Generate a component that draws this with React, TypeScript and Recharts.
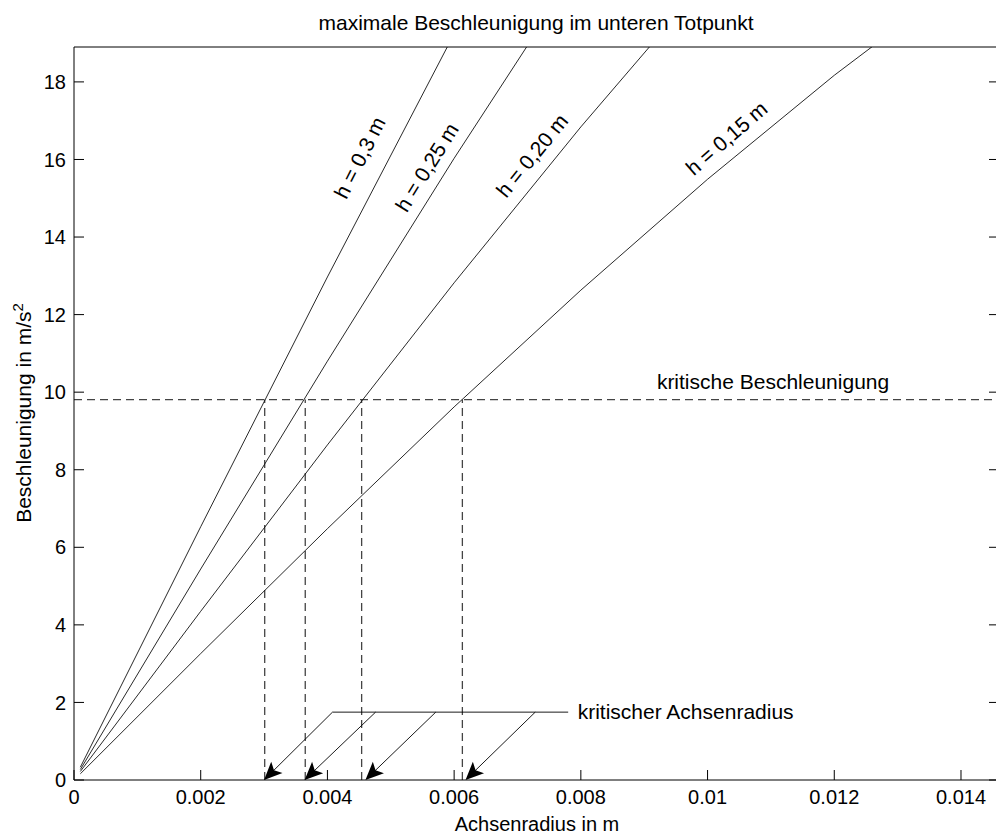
import React from 'react';
import { LineChart, Line, XAxis, YAxis, ReferenceLine, ReferenceDot } from 'recharts';

// axis ticks
const radiusTicks = [0, 0.002, 0.004, 0.006, 0.008, 0.01, 0.012, 0.014];
const accelTicks = [0, 2, 4, 6, 8, 10, 12, 14, 16, 18];

// acceleration over axle radius, one curve per drop height
const curveH30 = [
  { r: 0.0001, a: 0.33 },
  { r: 0.002, a: 6.53 },
  { r: 0.004, a: 12.97 },
  { r: 0.006, a: 19.24 },
];
const curveH25 = [
  { r: 0.0001, a: 0.27 },
  { r: 0.002, a: 5.44 },
  { r: 0.004, a: 10.8 },
  { r: 0.006, a: 16.03 },
  { r: 0.008, a: 21.05 },
];
const curveH20 = [
  { r: 0.0001, a: 0.22 },
  { r: 0.002, a: 4.35 },
  { r: 0.004, a: 8.64 },
  { r: 0.006, a: 12.82 },
  { r: 0.008, a: 16.84 },
  { r: 0.01, a: 20.65 },
];
const curveH15 = [
  { r: 0.0001, a: 0.16 },
  { r: 0.002, a: 3.26 },
  { r: 0.004, a: 6.48 },
  { r: 0.006, a: 9.62 },
  { r: 0.008, a: 12.63 },
  { r: 0.01, a: 15.49 },
  { r: 0.012, a: 18.17 },
  { r: 0.014, a: 20.64 },
];
const curves = [curveH30, curveH25, curveH20, curveH15];
const heightLabels = ['h = 0,3 m', 'h = 0,25 m', 'h = 0,20 m', 'h = 0,15 m'];

// critical acceleration and the radii where each curve crosses it
const critAccel = 9.81;
const critRadius = [0.00301, 0.00365, 0.00454, 0.00613];

// "kritischer Achsenradius" pointer arrows
const arrowLevel = 1.75;
const arrowFrom = [0.00408, 0.00476, 0.00571, 0.00728];
const arrowTo = [0.003, 0.00364, 0.0046, 0.00618];
const arrowLineEnd = 0.0078;

// where the curve labels sit (data coords) and their tilt
const curveLabelPos = [
  { r: 0.00451, a: 16.05, angle: -63 },
  { r: 0.00557, a: 15.8, angle: -58 },
  { r: 0.00723, a: 16.1, angle: -51 },
  { r: 0.0103, a: 16.55, angle: -41 },
];

const FONT = '"Liberation Sans", Arial, Helvetica, sans-serif';
const LABEL_SIZE = 21;
const tickStyle = { fontSize: 20, fill: '#000', fontFamily: FONT };

const fmt = (v: number) => String(v);

const Arrow = (p: any) => {
  const { x1, y1, x2, y2 } = p;
  const dx = x2 - x1;
  const dy = y2 - y1;
  const len = Math.hypot(dx, dy) || 1;
  const ux = dx / len;
  const uy = dy / len;
  const L = 18;
  const W = 8;
  const bx = x2 - ux * L;
  const by = y2 - uy * L;
  const nx = -uy;
  const ny = ux;
  const pts = [
    [x2, y2],
    [bx + nx * W, by + ny * W],
    [x2 - ux * (L - 4), y2 - uy * (L - 4)],
    [bx - nx * W, by - ny * W],
  ]
    .map((q) => q.join(','))
    .join(' ');
  return (
    <g>
      <line x1={x1} y1={y1} x2={x2 - ux * 10} y2={y2 - uy * 10} stroke="#000" strokeWidth={0.9} />
      <polygon points={pts} fill="#000" />
    </g>
  );
};

const textAt = (label: string, angle: number, anchor: 'start' | 'middle' = 'middle') => (p: any) => (
  <text
    x={p.cx}
    y={p.cy}
    dy="0.35em"
    textAnchor={anchor}
    transform={angle ? `rotate(${angle} ${p.cx} ${p.cy})` : undefined}
    fontSize={LABEL_SIZE}
    fontFamily={FONT}
    fill="#000"
  >
    {label}
  </text>
);

const Title = () => (
  <text x={536} y={30} textAnchor="middle" fontSize={LABEL_SIZE} fontFamily={FONT} fill="#000">
    maximale Beschleunigung im unteren Totpunkt
  </text>
);

const XTitle = () => (
  <text x={537} y={831} textAnchor="middle" fontSize={20} fontFamily={FONT} fill="#000">
    Achsenradius in m
  </text>
);

const YTitle = () => (
  <text x={31} y={413} transform="rotate(-90 31 413)" textAnchor="middle" fontSize={LABEL_SIZE} fontFamily={FONT} fill="#000">
    Beschleunigung in m/s
    <tspan dy={-8} fontSize={15}>
      2
    </tspan>
  </text>
);

export default function App() {
  return (
    <div style={{ position: 'absolute', left: 0, top: 0, width: 996, height: 834, overflow: 'hidden', background: '#fff' }}>
      <LineChart width={1000} height={834} margin={{ top: 46, right: 0, bottom: 0, left: 0 }}>
        <XAxis
          type="number"
          dataKey="r"
          domain={[0, 0.0146]}
          ticks={radiusTicks}
          interval={0}
          allowDataOverflow
          height={54}
          tickSize={-10}
          tickMargin={20}
          tickFormatter={fmt}
          tick={tickStyle}
          stroke="#000"
          label={{ content: XTitle }}
        />
        <XAxis
          xAxisId="top"
          orientation="top"
          type="number"
          domain={[0, 0.0146]}
          ticks={radiusTicks}
          interval={0}
          allowDataOverflow
          height={1}
          tickSize={-10}
          tickFormatter={() => ''}
          stroke="#000"
          label={{ content: Title }}
        />
        <YAxis
          type="number"
          domain={[0, 18.9]}
          ticks={accelTicks}
          interval={0}
          allowDataOverflow
          width={74}
          tickSize={-10}
          tickMargin={18}
          tick={tickStyle}
          stroke="#000"
          label={{ content: YTitle }}
        />
        <YAxis
          yAxisId="right"
          orientation="right"
          type="number"
          domain={[0, 18.9]}
          ticks={accelTicks}
          interval={0}
          allowDataOverflow
          width={1}
          tickSize={-10}
          tickFormatter={() => ''}
          stroke="#000"
        />

        <ReferenceLine y={critAccel} stroke="#444" strokeWidth={1.3} strokeDasharray="8 5" />
        {critRadius.map((r) => (
          <ReferenceLine
            key={'v' + r}
            segment={[
              { x: r, y: 0 },
              { x: r, y: critAccel },
            ]}
            stroke="#444"
            strokeWidth={1.3}
            strokeDasharray="8 5"
          />
        ))}

        {curves.map((c, i) => (
          <Line
            key={heightLabels[i]}
            data={c}
            dataKey="a"
            type="linear"
            stroke="#111"
            strokeWidth={0.9}
            dot={false}
            activeDot={false}
            isAnimationActive={false}
          />
        ))}

        <ReferenceLine
          segment={[
            { x: arrowFrom[0], y: arrowLevel },
            { x: arrowLineEnd, y: arrowLevel },
          ]}
          stroke="#000"
          strokeWidth={0.9}
        />
        {arrowFrom.map((r, i) => (
          <ReferenceLine
            key={'a' + i}
            segment={[
              { x: r, y: arrowLevel },
              { x: arrowTo[i], y: 0 },
            ]}
            shape={Arrow}
          />
        ))}

        {curveLabelPos.map((p, i) => (
          <ReferenceDot key={'l' + i} x={p.r} y={p.a} shape={textAt(heightLabels[i], p.angle)} />
        ))}
        <ReferenceDot x={0.0092} y={10.26} shape={textAt('kritische Beschleunigung', 0, 'start')} />
        <ReferenceDot x={0.00795} y={arrowLevel} shape={textAt('kritischer Achsenradius', 0, 'start')} />
      </LineChart>
    </div>
  );
}
